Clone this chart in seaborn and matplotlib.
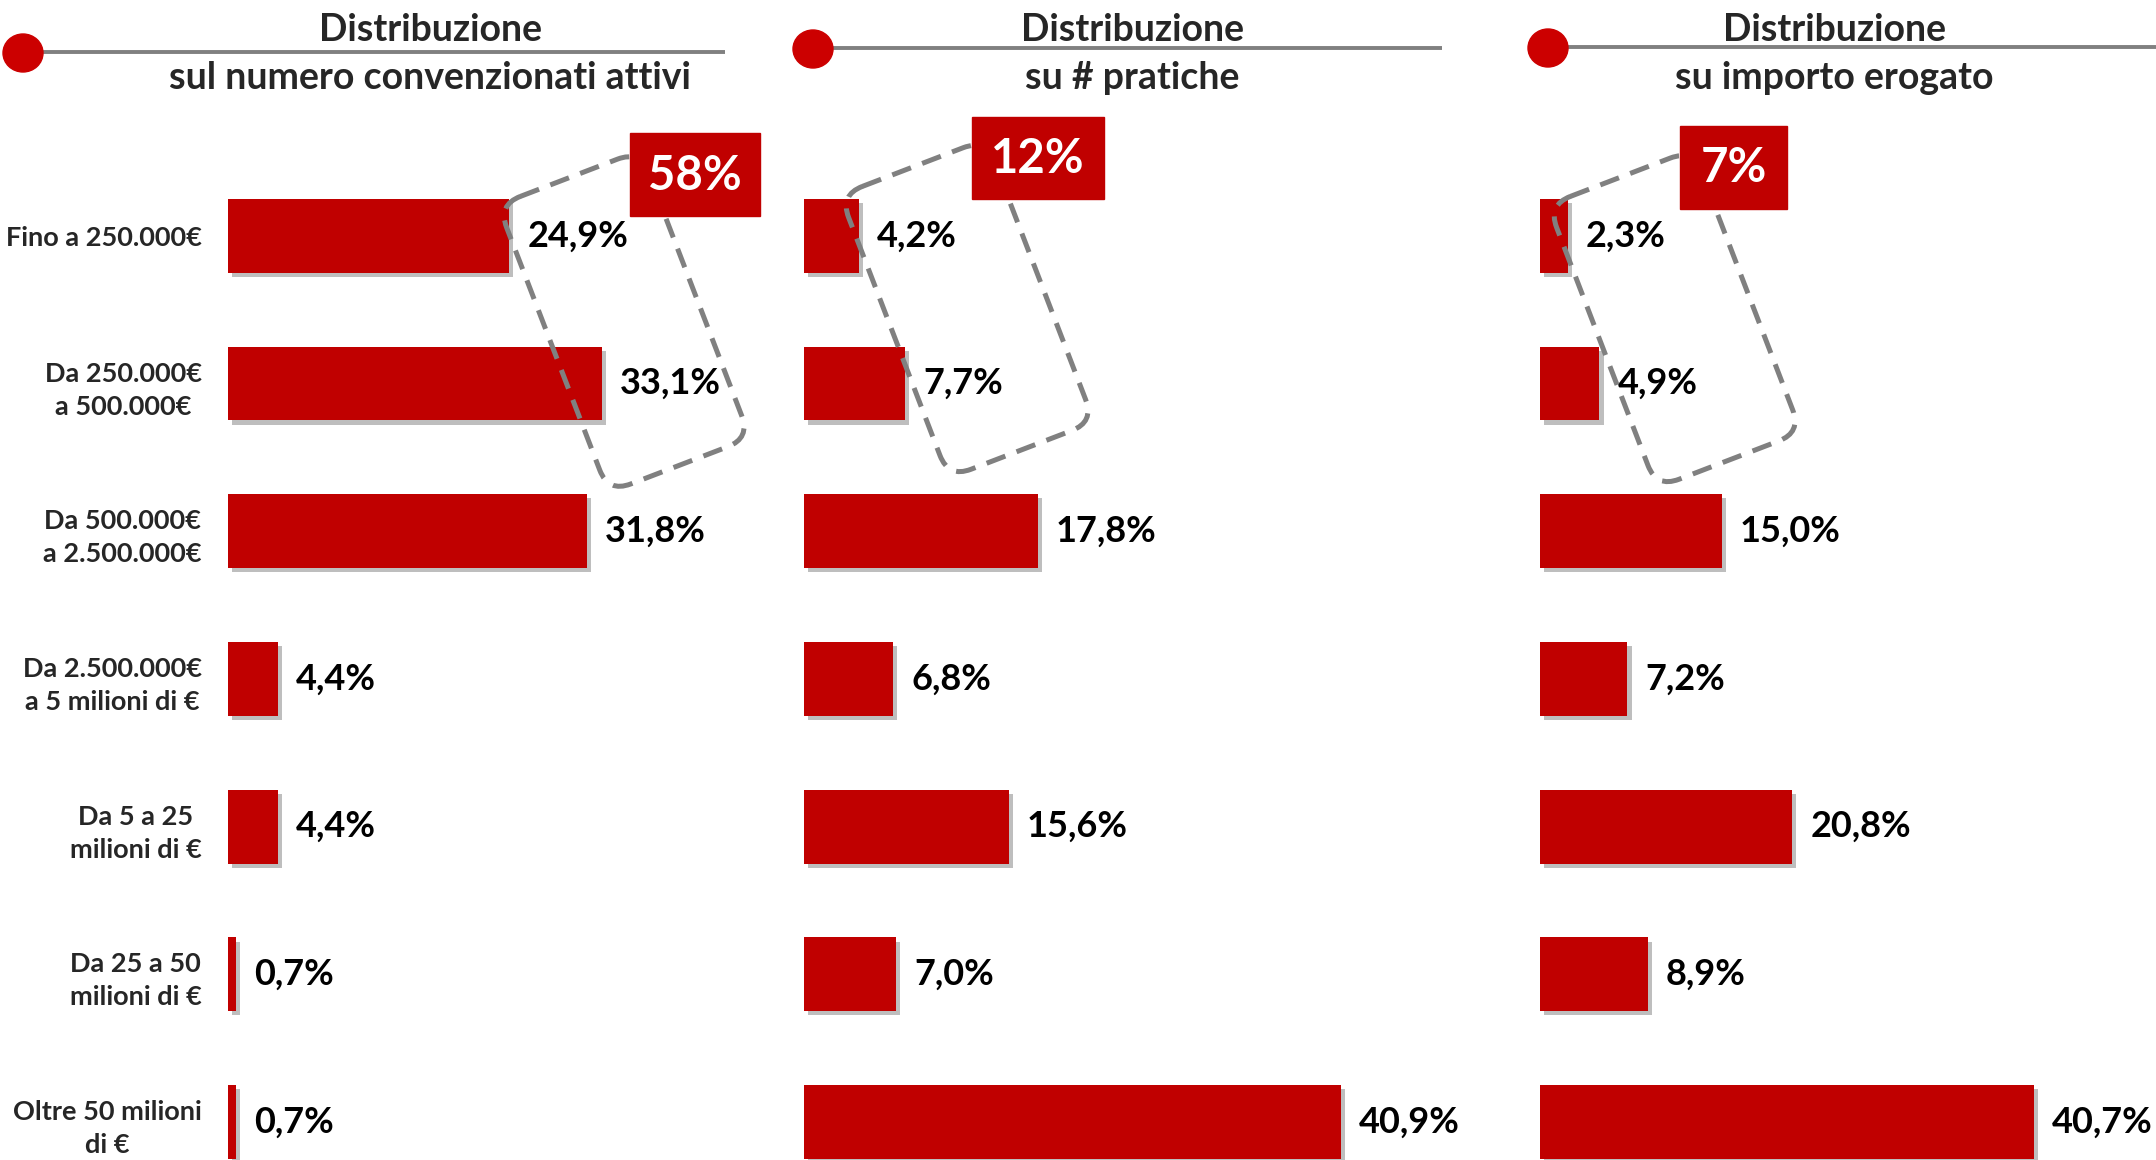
import matplotlib
matplotlib.use("Agg")
import matplotlib.pyplot as plt
import numpy as np
import pandas as pd
import seaborn as sns
from matplotlib.patches import FancyBboxPatch, Ellipse, Rectangle
from matplotlib.transforms import Affine2D
from matplotlib import patheffects as pe

# ---- data -------------------------------------------------------------
categories = [
    "Fino a 250.000€",
    "Da 250.000€\na 500.000€",
    "Da 500.000€\na 2.500.000€",
    "Da 2.500.000€\na 5 milioni di €",
    "Da 5 a 25\nmilioni di €",
    "Da 25 a 50\nmilioni di €",
    "Oltre 50 milioni\ndi €",
]
convenzionati = [24.9, 33.1, 31.8, 4.4, 4.4, 0.7, 0.7]
pratiche = [4.2, 7.7, 17.8, 6.8, 15.6, 7.0, 40.9]
importo = [2.3, 4.9, 15.0, 7.2, 20.8, 8.9, 40.7]

title_top = "Distribuzione"
subtitles = ["sul numero convenzionati attivi", "su # pratiche", "su importo erogato"]

# ---- style ------------------------------------------------------------
sns.set_theme(style="white")
plt.rcParams["font.family"] = ["Lato", "DejaVu Sans"]

RED = "#C00000"
DOT_RED = "#CC0000"
GREY = "#808080"

W, H = 2156, 1160
fig = plt.figure(figsize=(W / 100, H / 100), dpi=100)
fig.patch.set_facecolor("white")


def px_axes(left, top, width, bottom, **kw):
    return fig.add_axes([left / W, 1 - bottom / H, width / W, (bottom - top) / H], **kw)


def fmt(v):
    return f"{v:.1f}".replace(".", ",") + "%"


# panel geometry: left edge (px), px per percentage point, axes width (px)
panels = [
    (convenzionati, 228, 11.29, 520),
    (pratiche, 804, 13.13, 620),
    (importo, 1540, 12.13, 610),
]

ROW_TOP = 162
for i, (vals, left, scale, width) in enumerate(panels):
    ax = px_axes(left, ROW_TOP, width, H)
    df = pd.DataFrame({"categoria": categories, "valore": vals})
    sns.barplot(data=df, x="valore", y="categoria", orient="h", color=RED,
                saturation=1, width=0.5, errorbar=None, ax=ax)
    ax.set_xlim(0, width / scale)
    ax.set_ylim(6.257, -0.5)
    for s in ax.spines.values():
        s.set_visible(False)
    ax.set_xticks([])
    ax.set_xlabel("")
    ax.set_ylabel("")
    ax.patch.set_alpha(0)
    for p in ax.patches:
        p.set_edgecolor("none")
        p.set_path_effects([
            pe.SimplePatchShadow(offset=(3, -3), shadow_rgbFace="#6f6f6f", alpha=0.45),
            pe.Normal(),
        ])
    ax.bar_label(ax.containers[0], labels=[fmt(v) for v in vals], padding=13,
                 fontsize=26, fontweight="bold", color="black")
    if i == 0:
        ax.tick_params(axis="y", length=0, pad=19, labelsize=19.5)
        for lbl in ax.get_yticklabels():
            lbl.set_fontweight("bold")
            lbl.set_multialignment("center")
            lbl.set_linespacing(1.45)
    else:
        ax.set_yticks([])

# ---- overlay: headers, highlight boxes and badges ----------------------
ov = fig.add_axes([0, 0, 1, 1], zorder=10)
ov.set_xlim(0, W)
ov.set_ylim(H, 0)
ov.axis("off")
ov.patch.set_alpha(0)

# header: (dot x, dot y, rule end x, title centre x)
headers = [(23, 53, 725, 430), (813, 49, 1442, 1132), (1548, 48, W, 1834)]
for (dx, dy, x_end, cx), sub in zip(headers, subtitles):
    ov.plot([dx, x_end], [dy - 1, dy - 1], color=GREY, lw=2.8, solid_capstyle="butt", zorder=1)
    ov.add_patch(Ellipse((dx, dy), 40, 38, color=DOT_RED, zorder=2))
    ov.text(cx, 30, title_top, ha="center", va="center", fontsize=27, fontweight="bold")
    ov.text(cx, 78, sub, ha="center", va="center", fontsize=27, fontweight="bold")

# dashed rotated frame around the first two classes + total badge
frames = [(498, 205, 152, 308), (840, 195, 156, 303), (1548, 205, 155, 303)]
badges = [(630, 133, 130, 83), (972, 117, 132, 82), (1680, 126, 107, 83)]
for (vals, _, _, _), (fx, fy, fw, fh), (bx, by, bw, bh) in zip(panels, frames, badges):
    frame = FancyBboxPatch((0, 0), fw, fh, boxstyle="round,pad=0,rounding_size=24",
                           fill=False, ec=GREY, lw=3.6, ls=(0, (4, 2.4)),
                           transform=Affine2D().rotate_deg(-21).translate(fx, fy) + ov.transData,
                           zorder=3)
    ov.add_patch(frame)
    ov.add_patch(Rectangle((bx, by), bw, bh, color=RED, zorder=4))
    total = round(vals[0] + vals[1])
    ov.text(bx + bw / 2, by + bh / 2 + 1, f"{total}%", ha="center", va="center",
            color="white", fontsize=34, fontweight="bold", zorder=5)

fig.savefig("out.png", dpi=100, facecolor="white")
